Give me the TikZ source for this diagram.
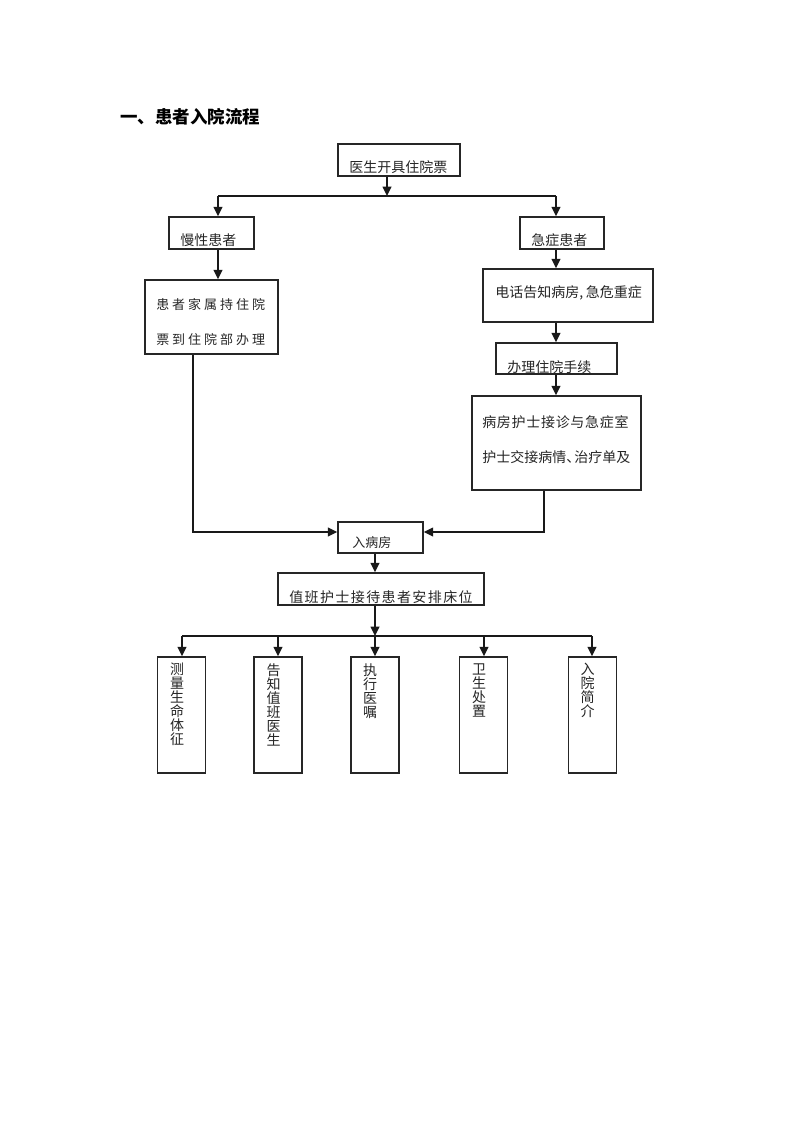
\documentclass[tikz,border=0pt]{standalone}
\usepackage{fontspec}
\newfontfamily\cjk{Noto Sans CJK SC}
\usetikzlibrary{arrows.meta}
\tikzset{
  box/.style={draw=black!85, line width=1.1pt, inner sep=0pt, rectangle},
  txt/.style={font=\cjk\fontsize{10.5}{10.5}\selectfont, text=black!85, inner sep=0pt, anchor=west},
  vtxt/.style={font=\cjk\fontsize{10.5}{10.5}\selectfont, text=black!85, inner sep=0pt, anchor=north, align=center},
  arr/.style={line width=1.1pt, draw=black!90, -{Triangle[length=7pt,width=6.5pt]}},
  ln/.style={line width=1.1pt, draw=black!90},
}
\newcommand\bx[5]{\node[box, minimum width=#4*0.75pt, minimum height=#5*0.75pt] (#1) at (#2,#3) {};}
\begin{document}
\begin{tikzpicture}[x=0.75pt,y=-0.75pt]
\fill[white] (0,0) rectangle (800,1131);
\useasboundingbox (0,0) rectangle (800,1131);

% title
\node[txt, font=\cjk\bfseries\fontsize{13.1}{13.1}\selectfont, text=black] (title) at (120,117) {一、患者入院流程};

% boxes
\bx{top}{399}{160}{122}{32}
\bx{slow}{211.5}{233}{85}{32}
\bx{acute}{562}{233}{84}{32}
\bx{fam}{211.5}{317}{133}{74}
\bx{phone}{568}{295.5}{170}{53}
\bx{proc}{556.5}{358.5}{121}{31}
\bx{nurse}{556.5}{443}{169}{94}
\bx{ward}{380.5}{537.5}{85}{31}
\bx{duty}{381}{589}{206}{32}
\bx{b1}{181.5}{715}{48}{116}
\bx{b2}{278}{715}{48}{116}
\bx{b3}{375}{715}{48}{116}
\bx{b4}{483.5}{715}{48}{116}
\bx{b5}{592.5}{715}{48}{116}

% texts
\node[txt] (ttop) at (349,167) {医生开具住院票};
\node[txt] (tslow) at (180,240) {慢性患者};
\node[txt] (tacute) at (531,240) {急症患者};
\node[txt, font=\cjk\fontsize{9.75}{9.75}\selectfont\addfontfeature{LetterSpace=23}] (tfam1) at (156,305) {患者家属持住院};
\node[txt, font=\cjk\fontsize{9.75}{9.75}\selectfont\addfontfeature{LetterSpace=23}] (tfam2) at (156,340) {票到住院部办理};
\node[txt] (tphone) at (495,293) {电话告知病房,\hspace{0.2em}急危重症};
\node[txt] (tproc) at (507,367) {办理住院手续};
\node[txt, font=\cjk\fontsize{10.5}{10.5}\selectfont\addfontfeature{LetterSpace=5}] (tn1) at (482,422) {病房护士接诊与急症室};
\node[txt] (tn2) at (482,457) {护士交接病情、\hspace{-0.42em}治疗单及};
\node[txt, font=\cjk\fontsize{9.75}{9.75}\selectfont] (tward) at (352,543) {入病房};
\node[txt, font=\cjk\fontsize{10.5}{10.5}\selectfont\addfontfeature{LetterSpace=10}] (tduty) at (289,597) {值班护士接待患者安排床位};
\node[vtxt] (tb1) at (177,663) {测\\量\\生\\命\\体\\征};
\node[vtxt] (tb2) at (273.5,663) {告\\知\\值\\班\\医\\生};
\node[vtxt] (tb3) at (370,663) {执\\行\\医\\嘱};
\node[vtxt] (tb4) at (479,663) {卫\\生\\处\\置};
\node[vtxt] (tb5) at (587.5,663) {入\\院\\简\\介};

% connectors
\coordinate (j1) at (387,196);
\coordinate (jL) at (218,196);
\coordinate (jR) at (556,196);
\draw[arr] (top.south -| j1) -- (j1);
\draw[ln] (jL) -- (jR);
\draw[arr] (jL) -- (slow.north -| jL);
\draw[arr] (jR) -- (acute.north -| jR);
\draw[arr] (slow.south -| jL) -- (fam.north -| jL);
\draw[arr] (acute.south -| jR) -- (phone.north -| jR);
\draw[arr] (phone.south -| jR) -- (proc.north -| jR);
\draw[arr] (proc.south -| jR) -- (nurse.north -| jR);

\coordinate (c1) at (193,532);
\coordinate (c2) at (544,532);
\draw[arr] (fam.south -| c1) -- (c1) -- (ward.west |- c1);
\draw[arr] (nurse.south -| c2) -- (c2) -- (ward.east |- c2);

\coordinate (j5) at (375,636);
\draw[arr] (ward.south -| j5) -- (duty.north -| j5);
\draw[arr] (duty.south -| j5) -- (j5);
\coordinate (k1) at (182,636);
\coordinate (k2) at (278,636);
\coordinate (k4) at (484,636);
\coordinate (k5) at (592,636);
\draw[ln] (k1) -- (k5);
\draw[arr] (k1) -- (b1.north -| k1);
\draw[arr] (k2) -- (b2.north -| k2);
\draw[arr] (j5) -- (b3.north -| j5);
\draw[arr] (k4) -- (b4.north -| k4);
\draw[arr] (k5) -- (b5.north -| k5);
\end{tikzpicture}
\end{document}
